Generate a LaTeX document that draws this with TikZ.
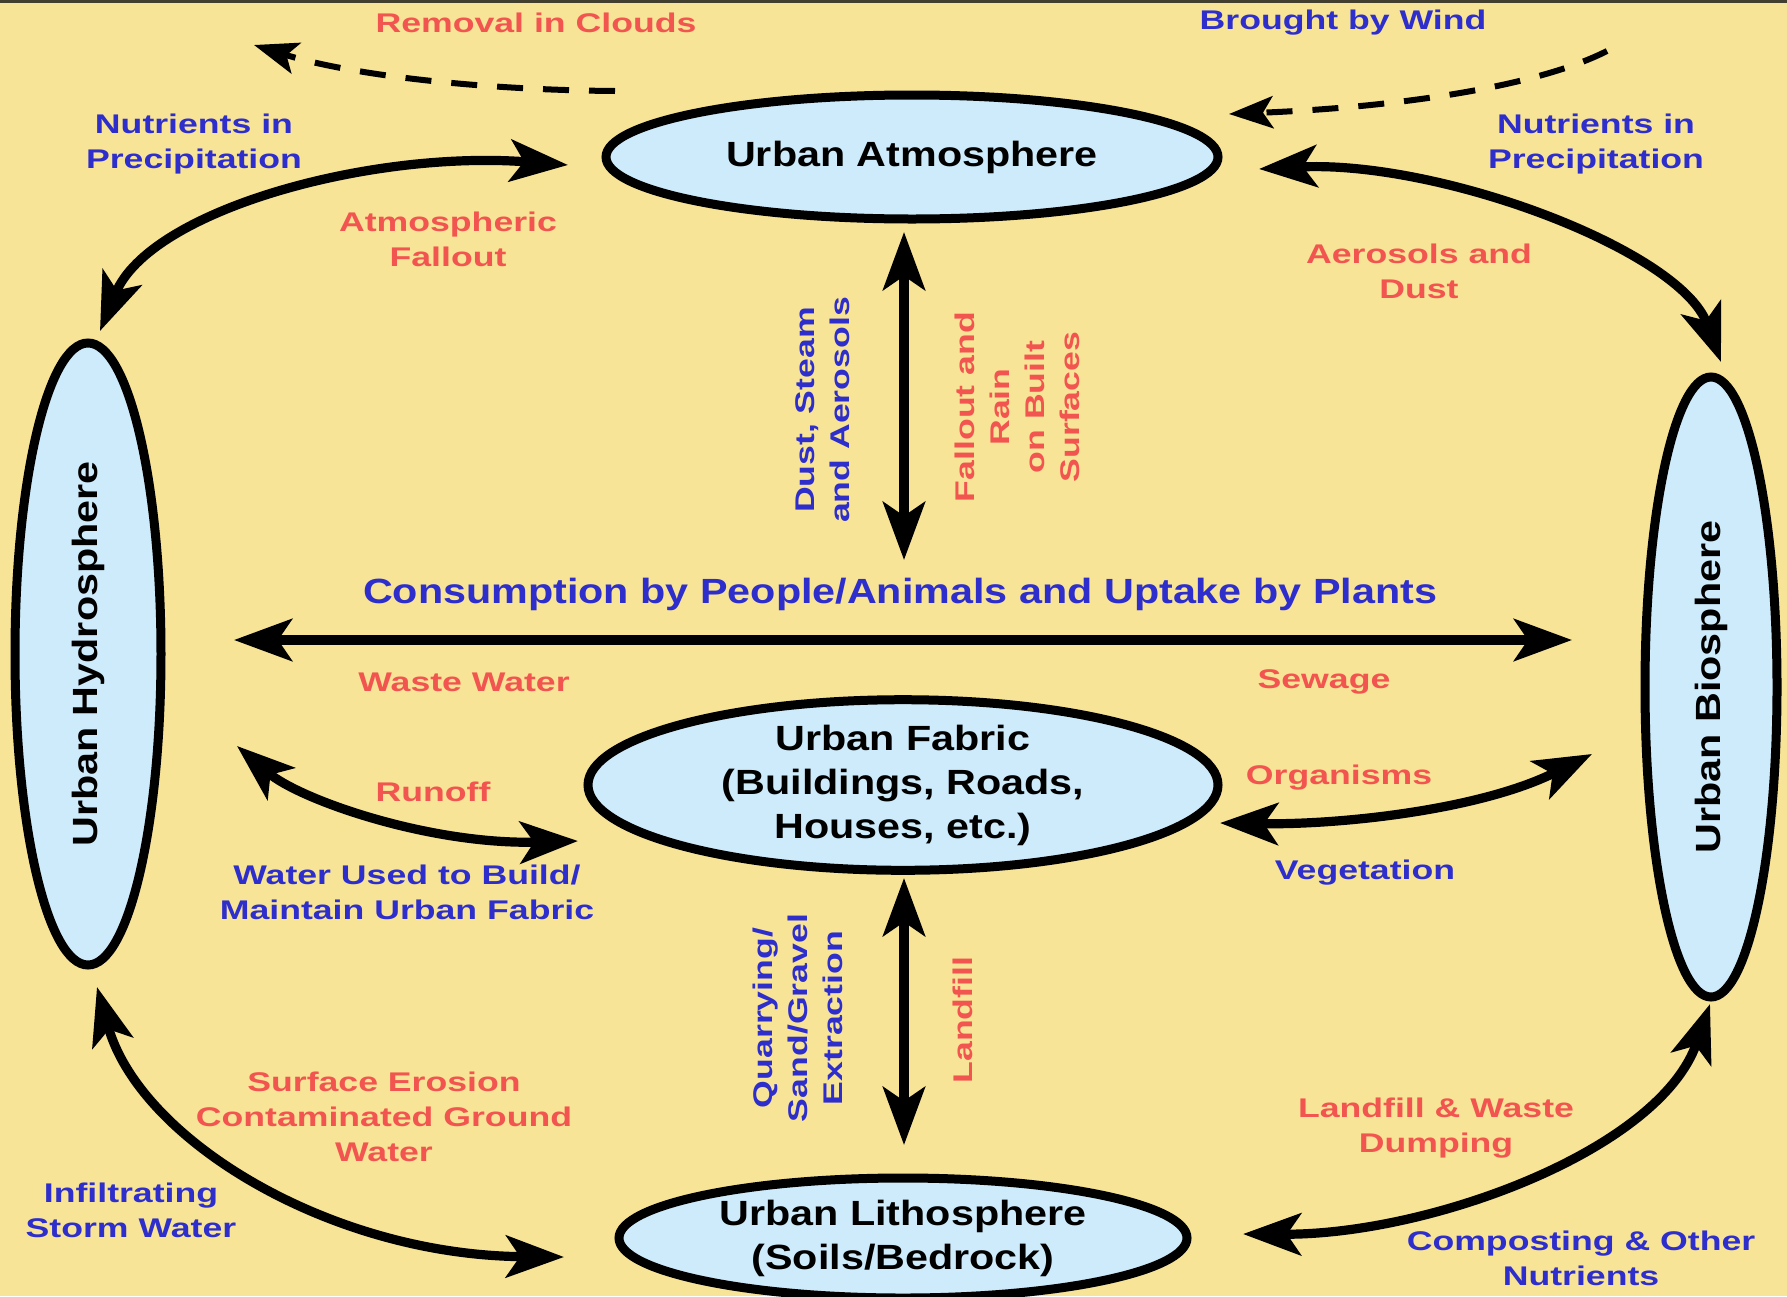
\documentclass[tikz,border=0pt]{standalone}
\usepackage{fontspec}
\setmainfont{Liberation Sans}
\newfontfamily\labfont[FakeStretch=1.32]{Liberation Sans}
\newfontfamily\nodfont[FakeStretch=1.18]{Liberation Sans}
\usetikzlibrary{shapes.geometric,arrows.meta}
\definecolor{bgyellow}{HTML}{F7E497}
\definecolor{ellfill}{HTML}{CDEBFA}
\definecolor{myblue}{HTML}{2E2ECC}
\definecolor{myred}{HTML}{F2554F}
\tikzset{
  bigtip/.tip={Stealth[length=29pt,width=21pt,inset=7pt]},
  dashtip/.tip={Stealth[length=22pt,width=16pt,inset=5pt]},
  lab/.style={font=\labfont\bfseries\fontsize{13.5}{17.5}\selectfont, align=center, inner sep=0pt},
  bl/.style={lab, text=myblue},
  rd/.style={lab, text=myred},
  sphere/.style={ellipse, draw=black, line width=4.5pt, fill=ellfill, inner sep=0pt, align=center,
    font=\nodfont\bfseries\fontsize{17.5}{22}\selectfont},
  flow/.style={line width=4.6pt, bigtip-bigtip},
  windflow/.style={line width=3pt, dash pattern=on 13pt off 10pt, -dashtip},
}
\begin{document}
\begin{tikzpicture}[x=0.5pt,y=-0.5pt]
\fill[bgyellow] (0,0) rectangle (1787,1296);
\useasboundingbox (0,0) rectangle (1787,1296);
\draw[line width=1.5pt, black!70!olive] (0,1) -- (1787,1);

% spheres
\node[sphere, minimum width=306pt, minimum height=62pt] (atm) at (912,157) {Urban Atmosphere};
\node[sphere, minimum width=315pt, minimum height=84pt] (fab) at (903,785) {Urban Fabric\\(Buildings, Roads,\\Houses, etc.)};
\node[sphere, minimum width=284pt, minimum height=60pt] (lit) at (903,1238) {Urban Lithosphere\\(Soils/Bedrock)};
\node[sphere, rotate=90, minimum width=311pt, minimum height=73pt] (hyd) at (88,654) {Urban Hydrosphere};
\node[sphere, rotate=90, minimum width=310pt, minimum height=66pt] (bio) at (1711,687) {Urban Biosphere};

% arrow end points
\coordinate (tlA) at (100,331);  \coordinate (tlB) at (568,165);
\coordinate (trA) at (1259,169); \coordinate (trB) at (1721,362);
\coordinate (vtA) at (904,232);  \coordinate (vtB) at (904,560);
\coordinate (hzA) at (234,640);  \coordinate (hzB) at (1572,640);
\coordinate (ruA) at (237,746);  \coordinate (ruB) at (578,841);
\coordinate (orA) at (1220,823); \coordinate (orB) at (1592,754);
\coordinate (vbA) at (904,878);  \coordinate (vbB) at (904,1145);
\coordinate (blA) at (97,987);   \coordinate (blB) at (564,1257);
\coordinate (brA) at (1243,1234);\coordinate (brB) at (1710,1004);
\coordinate (dlA) at (615,91);   \coordinate (dlB) at (254,45);
\coordinate (drA) at (1607,51);  \coordinate (drB) at (1229,114);

% connectors
\draw[flow] (tlA) .. controls (150,210) and (370,150) .. (tlB);
\draw[flow] (trA) .. controls (1440,160) and (1680,250) .. (trB);
\draw[flow] (vtA) -- (vtB);
\draw[flow] (hzA) -- (hzB);
\draw[flow] (ruA) .. controls (300,800) and (430,845) .. (ruB);
\draw[flow] (orA) .. controls (1340,825) and (1480,810) .. (orB);
\draw[flow] (vbA) -- (vbB);
\draw[flow] (blA) .. controls (140,1140) and (330,1255) .. (blB);
\draw[flow] (brA) .. controls (1430,1235) and (1660,1150) .. (brB);
\draw[windflow] (dlA) .. controls (480,90) and (350,75) .. (dlB);
\draw[windflow] (drA) .. controls (1530,90) and (1380,108) .. (drB);

% labels
\node[rd] (l1) at (536,23) {Removal in Clouds};
\node[bl] (l2) at (1343,23) {Brought by Wind};
\node[bl] (l3) at (194,144) {Nutrients in\\Precipitation};
\node[bl] (l4) at (1596,144) {Nutrients in\\Precipitation};
\node[rd] (l5) at (448,239) {Atmospheric\\Fallout};
\node[rd] (l6) at (1419,271) {Aerosols and\\Dust};
\node[bl, rotate=90] (l7) at (823,410) {Dust, Steam\\and Aerosols};
\node[rd, rotate=90] (l8) at (1017,407) {Fallout and\\Rain\\on Built\\Surfaces};
\node[text=myblue, inner sep=0pt, font=\nodfont\bfseries\fontsize{17.5}{22}\selectfont] (l9) at (900,594) {Consumption by People/Animals and Uptake by Plants};
\node[rd] (l10) at (464,682) {Waste Water};
\node[rd] (l11) at (1324,682) {Sewage};
\node[rd] (l12) at (433,792) {Runoff};
\node[rd] (l13) at (1339,778) {Organisms};
\node[bl] (l14) at (407,892) {Water Used to Build/\\Maintain Urban Fabric};
\node[bl] (l15) at (1365,873) {Vegetation};
\node[bl, rotate=90] (l16) at (798,1018) {Quarrying/\\Sand/Gravel\\Extraction};
\node[rd, rotate=90] (l17) at (963,1020) {Landfill};
\node[rd] (l18) at (384,1117) {Surface Erosion\\Contaminated Ground\\Water};
\node[bl] (l19) at (131,1210) {Infiltrating\\Storm Water};
\node[rd] (l20) at (1436,1128) {Landfill \& Waste\\Dumping};
\node[bl] (l21) at (1581,1258) {Composting \& Other\\Nutrients};
\end{tikzpicture}
\end{document}
